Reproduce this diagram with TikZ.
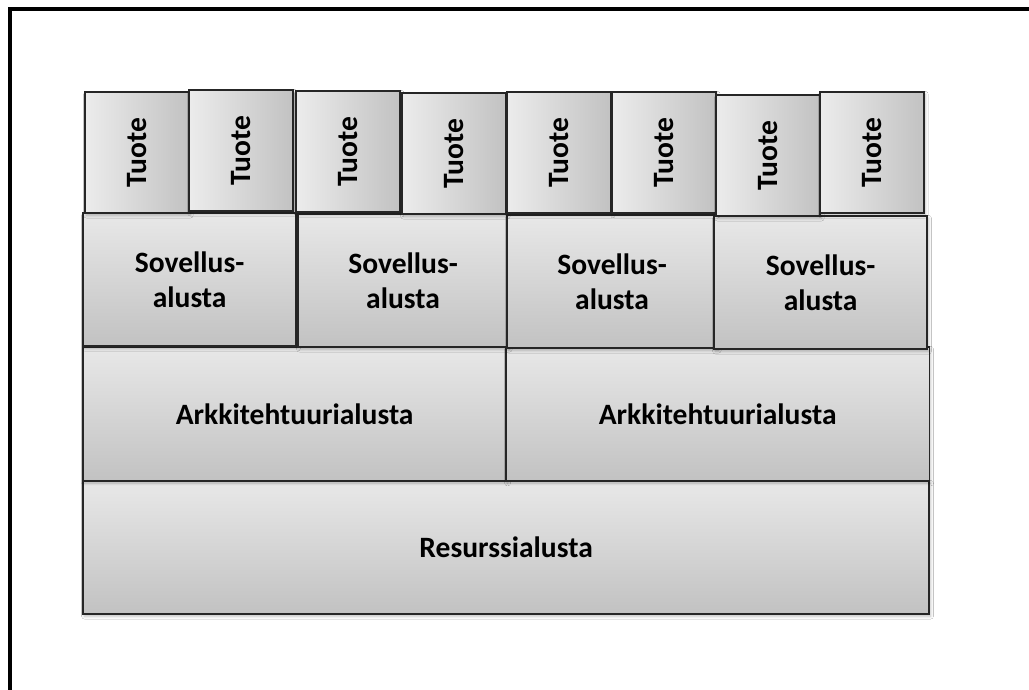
\documentclass[tikz,border=0pt]{standalone}
\usepackage{fontspec}
\setmainfont{Carlito}
\usepackage{graphicx}
\usepackage{tikz}
\usetikzlibrary{positioning, shadows.blur}
\tikzset{
    layer/.style={rectangle, draw=black!85, line width=1.1pt, top color=gray!18, bottom color=gray!48, inner sep=0pt, outer sep=0pt, anchor=north west, align=center, font=\bfseries\fontsize{21}{25}\selectfont, blur shadow={shadow xshift=1pt, shadow yshift=-1.5pt, shadow blur steps=6, shadow opacity=25}},
    tuote/.style={layer, left color=gray!15, right color=gray!48, minimum width=2.6cm, minimum height=3.03cm},
    sovellus/.style={layer, minimum width=5.25cm, minimum height=3.33cm},
    arkki/.style={layer, minimum width=10.58cm, minimum height=3.35cm},
    frame/.style={draw=black, line width=2.2pt},
}

\begin{document}
\begin{tikzpicture}[x=0.025cm, y=-0.025cm]
        \useasboundingbox (0,0) rectangle (1029,689);

        % Page background, a little wider than the page
        \fill[white] (-20,-20) rectangle (1060,720);

        % Frame (only top and left edges fall on the page)
        \draw[frame] (10,720) |- (1060,9);

        % Nodes
        \node[layer, minimum width=21.15cm, minimum height=3.33cm] (resurssi) at (83,481) {Resurssialusta};

        \node[arkki] (arkki1) at (83,347) {Arkkitehtuurialusta};
        \node[arkki] (arkki2) at (506,347) {Arkkitehtuurialusta};

        \node[sovellus, minimum width=5.33cm] (sov1) at (83,213) {Sovellus-\\alusta};
        \node[sovellus] (sov2) at (298,214) {Sovellus-\\alusta};
        \node[sovellus] (sov3) at (507,215) {Sovellus-\\alusta};
        \node[sovellus, minimum width=5.33cm] (sov4) at (714,216) {Sovellus-\\alusta};

        \node[tuote] (tuote1) at (85,92) {\rotatebox{90}{Tuote}};
        \node[tuote] (tuote2) at (189,90) {\rotatebox{90}{Tuote}};
        \node[tuote] (tuote3) at (296,91) {\rotatebox{90}{Tuote}};
        \node[tuote] (tuote4) at (402,93) {\rotatebox{90}{Tuote}};
        \node[tuote] (tuote5) at (507,92) {\rotatebox{90}{Tuote}};
        \node[tuote] (tuote6) at (612,92) {\rotatebox{90}{Tuote}};
        \node[tuote] (tuote7) at (716,95) {\rotatebox{90}{Tuote}};
        \node[tuote] (tuote8) at (820,92) {\rotatebox{90}{Tuote}};
    \end{tikzpicture}
\end{document}
